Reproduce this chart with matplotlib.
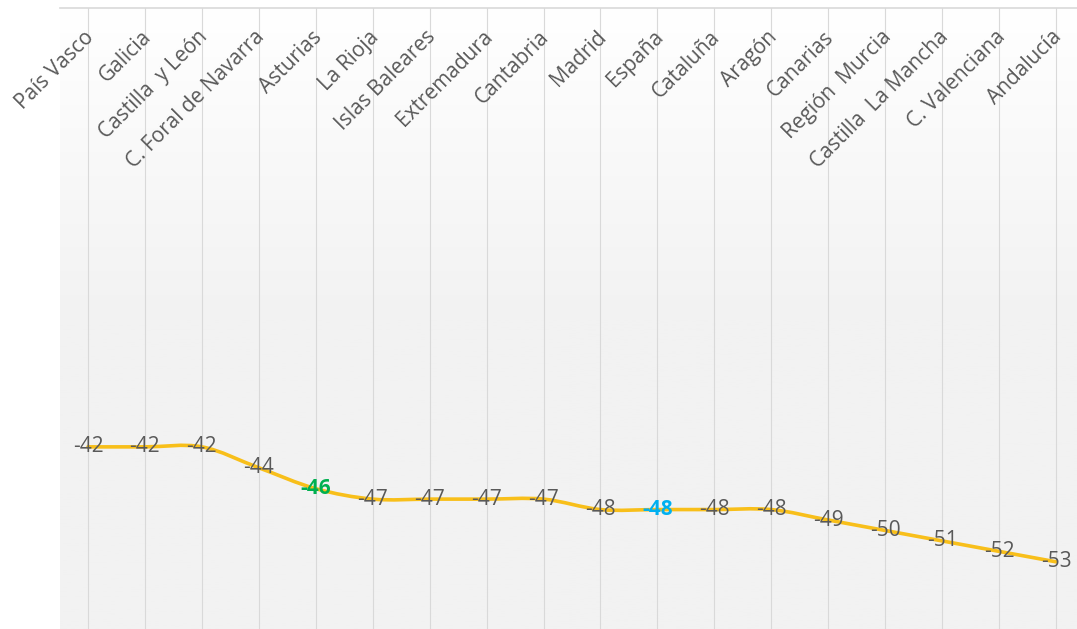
import numpy as np
import matplotlib
matplotlib.use("Agg")
import matplotlib.pyplot as plt
from matplotlib.path import Path
from matplotlib.patches import PathPatch
import matplotlib.transforms as mtransforms
from matplotlib.colors import LinearSegmentedColormap

plt.rcParams['font.family'] = ['Open Sans', 'DejaVu Sans']

categories = ["País Vasco", "Galicia", "Castilla  y León", "C. Foral de Navarra",
              "Asturias", "La Rioja", "Islas Baleares", "Extremadura", "Cantabria",
              "Madrid", "España", "Cataluña", "Aragón", "Canarias", "Región  Murcia",
              "Castilla  La Mancha", "C. Valenciana", "Andalucía"]
values = [-42, -42, -42, -44, -46, -47, -47, -47, -47, -48, -48, -48, -48,
          -49, -50, -51, -52, -53]
highlight = {"Asturias": "#00B050", "España": "#00B0F0"}

W, H = 1077, 629
fig = plt.figure(figsize=(W / 100, H / 100), dpi=100)
fig.patch.set_facecolor("white")
ax = fig.add_axes([59.5 / W, 0, 1 - 59.5 / W, 1 - 8 / H])

n = len(categories)
x = np.arange(n)

# gradient background (white at top -> light gray lower down)
grad = np.linspace(0, 1, 256).reshape(-1, 1)
cmap = LinearSegmentedColormap.from_list("bg", [(0, "#ffffff"), (0.5, "#f2f2f2"), (1, "#f2f2f2")])
ax.imshow(grad, aspect="auto", cmap=cmap, extent=[0, 1, 0, 1], origin="upper",
          transform=ax.transAxes, zorder=0)
ax.set_xlim(-0.5, 17.369)
ax.set_ylim(-59.43, 0)

for s in ax.spines.values():
    s.set_visible(False)
ax.set_xticks([])
ax.set_yticks([])

# vertical gridlines
for xi in x:
    ax.axvline(xi, color="#d9d9d9", lw=0.8, zorder=1)
# top axis line
ax.axhline(0, color="#d9d9d9", lw=1.2, zorder=1, clip_on=False)

# smooth line (cubic Bezier through data points)
pts = np.column_stack([x, values]).astype(float)
verts = [tuple(pts[0])]
codes = [Path.MOVETO]
for i in range(n - 1):
    p0 = pts[i - 1] if i > 0 else pts[i]
    p1 = pts[i]
    p2 = pts[i + 1]
    p3 = pts[i + 2] if i + 2 < n else pts[i + 1]
    c1 = p1 + (p2 - p0) / 6.0
    c2 = p2 - (p3 - p1) / 6.0
    verts += [tuple(c1), tuple(c2), tuple(p2)]
    codes += [Path.CURVE4] * 3
ax.add_patch(PathPatch(Path(verts, codes), fill=False, edgecolor="#F8BF1A",
                       lw=2.6, zorder=3, capstyle="round", joinstyle="round"))

# data labels
for xi, v, c in zip(x, values, categories):
    col = highlight.get(c, "#595959")
    weight = "bold" if c in highlight else "normal"
    ax.text(xi, v, f"{v}", ha="center", va="center", fontsize=15,
            color=col, fontweight=weight, zorder=4)

# category labels (top, rotated)
trans = mtransforms.blended_transform_factory(ax.transData, ax.transAxes)
for xi, c in zip(x, categories):
    ax.text(xi + 0.05, 1 - 26 / 621, c, transform=trans, ha="right", va="center",
            rotation=45, rotation_mode="anchor", fontsize=15, color="#595959",
            zorder=4)

fig.savefig("out.png", dpi=100)
